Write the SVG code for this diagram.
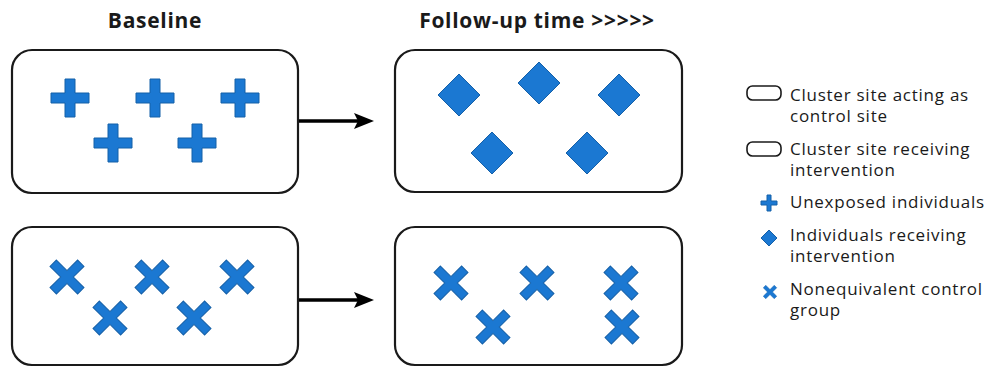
<svg xmlns="http://www.w3.org/2000/svg" xmlns:xlink="http://www.w3.org/1999/xlink" width="995" height="368" viewBox="0 0 995 368">
<style>
.box{fill:#fff;stroke:#1a1a1a;stroke-width:2.2}
.sym{fill:#1b78d2;stroke:#1560a8;stroke-width:1}
.title{font-family:"Open Sans","Noto Sans",sans-serif;font-weight:bold;font-size:21px;letter-spacing:0.7px;fill:#1a1a1a}
.leg{font-family:"Open Sans","Noto Sans",sans-serif;font-size:17px;letter-spacing:0.75px;fill:#1a1a1a}
.conn{stroke:#000;stroke-width:3.5;fill:none}
.icon{fill:#fff;stroke:#1a1a1a;stroke-width:1.6}
</style>
<defs>
<path id="plus" d="M-19,-5H-5V-19H5V-5H19V5H5V19H-5V5H-19Z"/>
<path id="cross" d="M-19.5,-4.5H-4.5V-19.5H4.5V-4.5H19.5V4.5H4.5V19.5H-4.5V4.5H-19.5Z" transform="rotate(45)"/>
<path id="diam" d="M0,-21L21,0L0,21L-21,0Z"/>
<marker id="ah" markerWidth="22" markerHeight="18" refX="4" refY="8" orient="auto" markerUnits="userSpaceOnUse">
<path d="M0,0L20,8L0,16L4,8Z" fill="#000"/>
</marker>
</defs>
<rect width="995" height="368" fill="#fff"/>
<text class="title" x="155" y="28" text-anchor="middle">Baseline</text>
<text class="title" x="537" y="28" text-anchor="middle">Follow-up time &gt;&gt;&gt;&gt;&gt;</text>

<g id="baseline-intervention">
<rect class="box" x="12" y="50" width="286" height="143" rx="20"/>
<use class="sym" href="#plus" x="70" y="98"/>
<use class="sym" href="#plus" x="155" y="98"/>
<use class="sym" href="#plus" x="240" y="98"/>
<use class="sym" href="#plus" x="113" y="143"/>
<use class="sym" href="#plus" x="197" y="143"/>
</g>
<g id="followup-intervention">
<rect class="box" x="395" y="50" width="287" height="142" rx="20"/>
<use class="sym" href="#diam" x="459" y="95"/>
<use class="sym" href="#diam" x="539" y="83"/>
<use class="sym" href="#diam" x="619" y="95"/>
<use class="sym" href="#diam" x="492" y="153"/>
<use class="sym" href="#diam" x="587" y="153"/>
</g>
<g id="baseline-control">
<rect class="box" x="12" y="227" width="286" height="138" rx="20"/>
<use class="sym" href="#cross" x="67" y="277"/>
<use class="sym" href="#cross" x="152" y="277"/>
<use class="sym" href="#cross" x="237" y="277"/>
<use class="sym" href="#cross" x="110" y="318"/>
<use class="sym" href="#cross" x="194" y="318"/>
</g>
<g id="followup-control">
<rect class="box" x="395" y="227" width="287" height="138" rx="20"/>
<use class="sym" href="#cross" x="451" y="283"/>
<use class="sym" href="#cross" x="537" y="283"/>
<use class="sym" href="#cross" x="621" y="283"/>
<use class="sym" href="#cross" x="493" y="327"/>
<use class="sym" href="#cross" x="622" y="327"/>
</g>
<g id="connectors">
<line class="conn" x1="299" y1="121" x2="358" y2="121" marker-end="url(#ah)"/>
<line class="conn" x1="299" y1="300" x2="358" y2="300" marker-end="url(#ah)"/>
</g>
<g id="legend">
<rect class="icon" x="747" y="86" width="34" height="14" rx="5.5"/>
<text class="leg" x="790" y="101">Cluster site acting as</text>
<text class="leg" x="790" y="122">control site</text>
<rect class="icon" x="747" y="142" width="34" height="14" rx="5.5"/>
<text class="leg" x="790" y="155">Cluster site receiving</text>
<text class="leg" x="790" y="176">intervention</text>
<path class="sym" d="M761,201H767V195H771V201H777V205H771V211H767V205H761Z"/>
<text class="leg" x="790" y="208">Unexposed individuals</text>
<path class="sym" d="M769,230L777,238L769,246L761,238Z"/>
<text class="leg" x="790" y="241">Individuals receiving</text>
<text class="leg" x="790" y="262">intervention</text>
<use class="sym" href="#cross" transform="translate(770,292) scale(0.4)"/>
<text class="leg" x="790" y="295">Nonequivalent control</text>
<text class="leg" x="790" y="316">group</text>
</g>
</svg>
